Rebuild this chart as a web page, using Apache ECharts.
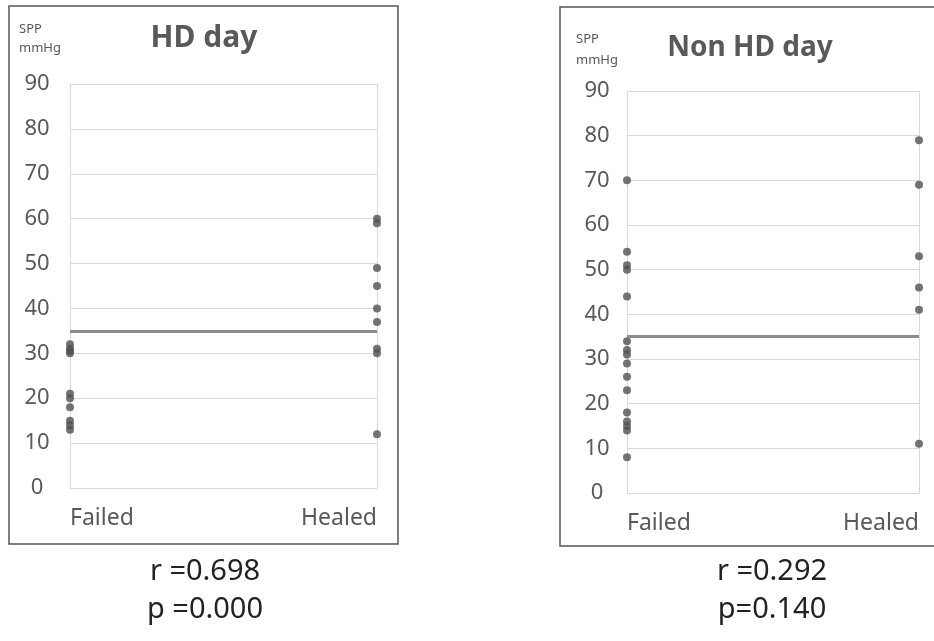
<!DOCTYPE html>
<html>
<head>
<meta charset="utf-8">
<script src="https://cdn.jsdelivr.net/npm/echarts@6/dist/echarts.min.js"></script>
<style>
  html, body { margin: 0; padding: 0; background: #fff; }
  #chart { width: 934px; height: 641px; }
</style>
</head>
<body>
<div id="chart"></div>
<script>
  // groups on the x axis
  var groups = ['Failed', 'Healed'];
  // SPP values (mmHg), HD day
  var hdFailed = [32, 31, 30.5, 30, 21, 20, 18, 15, 14, 13];
  var hdHealed = [60, 59, 49, 45, 40, 37, 31, 30, 12];
  // SPP values (mmHg), non HD day
  var nonFailed = [70, 54, 51, 50, 44, 34, 32, 31, 29, 26, 23, 18, 16, 15, 14, 8];
  var nonHealed = [79, 69, 53, 46, 41, 11];
  // cut-off line
  var cutOff = 35;
  var yMin = 0, yMax = 90, yStep = 10;
  var panelTitles = ['HD day', 'Non HD day'];
  var stats = [['r =0.698', 'p =0.000'], ['r =0.292', 'p=0.140']];

  var grey = '#595959';
  var font = 'Noto Sans';

  function points(group, vals) {
    return vals.map(function (v) { return [group, v]; });
  }

  function yAxis(idx, margin) {
    return {
      type: 'value', gridIndex: idx, min: yMin, max: yMax, interval: yStep,
      axisLine: { show: false },
      axisTick: { show: false },
      splitLine: { lineStyle: { color: '#d9d9d9', width: 1 } },
      axisLabel: { color: grey, fontSize: 22, fontFamily: font, align: 'center', margin: margin }
    };
  }

  function xAxis(idx) {
    return {
      type: 'category', gridIndex: idx, data: groups, boundaryGap: false,
      axisLine: { lineStyle: { color: '#d9d9d9' } },
      axisTick: { show: false },
      splitLine: { show: true, lineStyle: { color: '#d9d9d9', width: 1 } },
      axisLabel: {
        color: grey, fontSize: 23, fontFamily: font, margin: 19,
        alignMinLabel: 'left', alignMaxLabel: 'right'
      }
    };
  }

  function dots(idx, group, vals, withLine) {
    var s = {
      type: 'scatter', xAxisIndex: idx, yAxisIndex: idx,
      symbolSize: 8, itemStyle: { color: '#505050' },
      data: points(group, vals), z: 3
    };
    if (withLine) {
      s.markLine = {
        silent: true, symbol: 'none', label: { show: false },
        lineStyle: { color: '#8c8c8c', width: 3, type: 'solid' },
        data: [{ yAxis: cutOff }]
      };
    }
    return s;
  }

  var chart = echarts.init(document.getElementById('chart'));
  var option = {
    backgroundColor: '#fff',
    animation: false,
    grid: [
      { left: 70, right: 557, top: 84, bottom: 153 },
      { left: 627, right: 15, top: 91, bottom: 148 }
    ],
    xAxis: [xAxis(0), xAxis(1)],
    yAxis: [yAxis(0, 33), yAxis(1, 30)],
    series: [
      dots(0, groups[0], hdFailed, true),
      dots(0, groups[1], hdHealed, false),
      dots(1, groups[0], nonFailed, true),
      dots(1, groups[1], nonHealed, false)
    ],
    graphic: [
      { type: 'rect', shape: { x: 9, y: 6, width: 389, height: 538 },
        style: { fill: 'none', stroke: '#555', lineWidth: 1.5 }, z: -1 },
      { type: 'rect', shape: { x: 560, y: 7, width: 390, height: 539 },
        style: { fill: 'none', stroke: '#555', lineWidth: 1.5 }, z: -1 },
      { type: 'text', x: 204, y: 38, style: { text: panelTitles[0], fill: grey, font: 'bold 30px "' + font + '"', align: 'center', verticalAlign: 'middle' } },
      { type: 'text', x: 750, y: 48, style: { text: panelTitles[1], fill: grey, font: 'bold 28px "' + font + '"', align: 'center', verticalAlign: 'middle' } },
      { type: 'text', x: 19, y: 20, style: { text: 'SPP\nmmHg', fill: grey, font: '13px "' + font + '"', lineHeight: 19 } },
      { type: 'text', x: 576, y: 29, style: { text: 'SPP\nmmHg', fill: grey, font: '13px "' + font + '"', lineHeight: 21 } },
      { type: 'text', x: 205, y: 572, style: { text: stats[0][0], fill: '#222', font: '29px "' + font + '"', align: 'center', verticalAlign: 'middle' } },
      { type: 'text', x: 205, y: 610, style: { text: stats[0][1], fill: '#222', font: '29px "' + font + '"', align: 'center', verticalAlign: 'middle' } },
      { type: 'text', x: 772, y: 572, style: { text: stats[1][0], fill: '#222', font: '29px "' + font + '"', align: 'center', verticalAlign: 'middle' } },
      { type: 'text', x: 772, y: 610, style: { text: stats[1][1], fill: '#222', font: '29px "' + font + '"', align: 'center', verticalAlign: 'middle' } }
    ]
  };
  chart.setOption(option);
</script>
</body>
</html>
